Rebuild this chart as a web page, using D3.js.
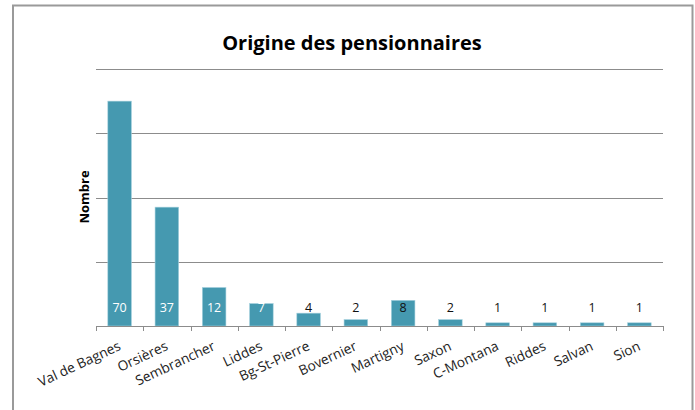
<!DOCTYPE html>
<html><head><meta charset="utf-8">
<script src="https://cdn.jsdelivr.net/npm/d3@7"></script>
<style>
html,body{margin:0;padding:0;background:#fff;}
svg{display:block;font-family:"Open Sans","Liberation Sans",sans-serif;}
</style></head>
<body>
<svg id="c" width="695" height="410"></svg>
<script>
const categories = ["Val de Bagnes","Orsières","Sembrancher","Liddes","Bg-St-Pierre","Bovernier","Martigny","Saxon","C-Montana","Riddes","Salvan","Sion"];
const values = [70,37,12,7,4,2,8,2,1,1,1,1];
const gridTicks = [20,40,60,80];
const title = "Origine des pensionnaires";
const yTitle = "Nombre";

const svg = d3.select("#c");
// frame
svg.append("path").attr("d","M13,412V5.5H692.5V412").attr("fill","none").attr("stroke","#9a9a9a").attr("stroke-width",2);

const x = d3.scaleBand().domain(categories).range([96,663]).paddingInner(0.5).paddingOuter(0.25);
const y = d3.scaleLinear().domain([0,80]).range([326,69]);

// gridlines
svg.append("g").selectAll("line").data(gridTicks).join("line")
  .attr("x1",96).attr("x2",663).attr("y1",d=>Math.round(y(d))+0.5).attr("y2",d=>Math.round(y(d))+0.5)
  .attr("stroke","#8c8c8c").attr("stroke-width",1);

// bars
svg.append("g").selectAll("rect").data(values).join("rect")
  .attr("x",(d,i)=>x(categories[i])).attr("width",x.bandwidth())
  .attr("y",d=>y(d)).attr("height",d=>y(0)-y(d))
  .attr("fill","#4599b0").attr("stroke","#a9d3df").attr("stroke-width",0.6);

// x axis
const xb = d3.scaleLinear().domain([0,categories.length]).range([96,663]);
const ax = svg.append("g");
ax.append("line").attr("x1",96).attr("x2",663).attr("y1",326.5).attr("y2",326.5).attr("stroke","#8c8c8c");
ax.selectAll("line.t").data(d3.range(categories.length+1)).join("line").attr("class","t")
  .attr("x1",d=>Math.round(xb(d))+0.5).attr("x2",d=>Math.round(xb(d))+0.5).attr("y1",326).attr("y2",331)
  .attr("stroke","#8c8c8c");

// category labels
svg.append("g").selectAll("text").data(categories).join("text")
  .attr("transform",d=>`translate(${x(d)+x.bandwidth()/2},${345}) rotate(-25)`)
  .attr("text-anchor","end").attr("dy","0.35em")
  .attr("font-size",13.7).attr("fill","#222").text(d=>d);

// value labels
svg.append("g").selectAll("text").data(values).join("text")
  .attr("x",(d,i)=>x(categories[i])+x.bandwidth()/2).attr("y",312)
  .attr("text-anchor","middle").attr("font-size",12.5)
  .attr("fill",(d,i)=>i<4?"#ffffff":"#111").text(d=>d);

// title
svg.append("text").attr("x",352).attr("y",50).attr("text-anchor","middle")
  .attr("font-size",20).attr("font-weight","bold").attr("fill","#000").text(title);

// y title
svg.append("text").attr("transform","translate(89,197) rotate(-90)").attr("text-anchor","middle")
  .attr("font-size",13).attr("font-weight","bold").attr("fill","#000").text(yTitle);
</script>
</body></html>
